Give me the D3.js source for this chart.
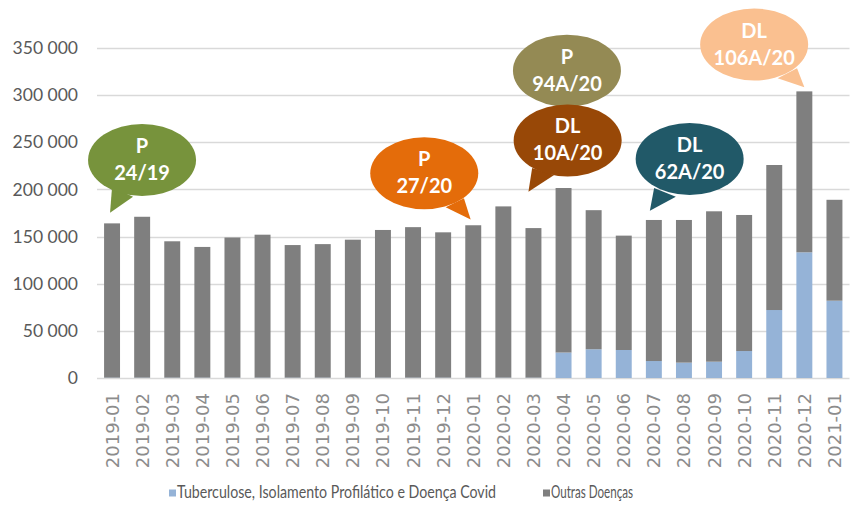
<!DOCTYPE html>
<html>
<head>
<meta charset="utf-8">
<script src="https://cdnjs.cloudflare.com/ajax/libs/d3/7.8.5/d3.min.js"></script>
<style>
  body { margin: 0; background: #fff; }
  svg { display: block; }
</style>
</head>
<body>
<script>
var months = ["2019-01","2019-02","2019-03","2019-04","2019-05","2019-06","2019-07","2019-08","2019-09","2019-10","2019-11","2019-12",
              "2020-01","2020-02","2020-03","2020-04","2020-05","2020-06","2020-07","2020-08","2020-09","2020-10","2020-11","2020-12","2021-01"];

// Tuberculose, Isolamento Profilático e Doença Covid
var covid = [400, 400, 400, 400, 400, 400, 400, 400, 400, 400, 400, 400,
             400, 400, 400, 27000, 30500, 29700, 18000, 16300, 17300, 28600, 72100, 133300, 82000];

// Outras Doenças
var outras = [163600, 170600, 144600, 138600, 148600, 151600, 140600, 141600, 146300, 156600, 159600, 154100,
              161600, 181600, 158600, 174500, 147500, 121300, 149600, 151300, 159500, 144300, 153800, 170700, 107000];

var seriesNames = ["Tuberculose, Isolamento Profilático e Doença Covid", "Outras Doenças"];
var seriesColors = ["#95B3D7", "#7F7F7F"];

var yTicks = [0, 50000, 100000, 150000, 200000, 250000, 300000, 350000];

// callouts: month + value where the tail points (the olive one has its tail hidden)
var notes = [
  {lines: ["P", "24/19"],    month: "2019-01", value: 175300, color: "#77933C", dx: -2,   cx: 32,    cy: -52.7, b1: [-30, 27],     b2: [-9, 36.7]},
  {lines: ["P", "27/20"],    month: "2020-01", value: 168000, color: "#E46C0A", dx: -2.6, cx: -46.4, cy: -46.3, b1: [21.4, 34],    b2: [39.7, 25]},
  {lines: ["P", "94A/20"],   month: "2020-03", value: 326000, color: "#948A54", dx: -5,   cx: 38.5,  cy: 0,     b1: null,          b2: null},
  {lines: ["DL", "10A/20"],  month: "2020-03", value: 197600, color: "#984807", dx: -5,   cx: 39.2,  cy: -51.2, b1: [-35.5, 27.5], b2: [-13.5, 34.5]},
  {lines: ["DL", "62A/20"],  month: "2020-07", value: 177400, color: "#215968", dx: -4,   cx: 39.8,  cy: -51.7, b1: [-35.5, 29],   b2: [-13.8, 37.7]},
  {lines: ["DL", "106A/20"], month: "2020-12", value: 308300, color: "#FAC090", dx: 0,    cx: -50.2, cy: -42.8, b1: [23.5, 33.8],  b2: [42.9, 23.8]}
];

var width = 857, height = 512;
var margin = {top: 48, right: 8, bottom: 134, left: 97};

var svg = d3.select("body").append("svg")
  .attr("width", width)
  .attr("height", height);

var x = d3.scaleBand()
  .domain(months)
  .range([margin.left, 849.5])
  .paddingInner(0.47)
  .paddingOuter(0.235);

var y = d3.scaleLinear()
  .domain([0, 350000])
  .range([378, margin.top]);

// gridlines
svg.append("g")
  .selectAll("line")
  .data(yTicks)
  .enter().append("line")
  .attr("x1", margin.left)
  .attr("x2", 849.5)
  .attr("y1", function(d) { return Math.round(y(d)) + 0.5; })
  .attr("y2", function(d) { return Math.round(y(d)) + 0.5; })
  .attr("stroke", "#D9D9D9")
  .attr("stroke-width", 1.3);

// y axis labels
var yAxis = d3.axisLeft(y)
  .tickValues(yTicks)
  .tickSize(0)
  .tickPadding(0)
  .tickFormat(function(d) { return d3.format(",")(d).replace(/,/g, " "); });

var ya = svg.append("g")
  .attr("transform", "translate(78,0)")
  .call(yAxis);
ya.select(".domain").remove();
ya.selectAll("text")
  .attr("fill", "#595959")
  .style("font-family", "Lato, 'Open Sans', sans-serif")
  .style("font-size", "17.5px");

// stacked bars
var rows = months.map(function(m, i) { return {month: m, covid: covid[i], outras: outras[i]}; });
var stack = d3.stack().keys(["covid", "outras"]);
var layers = stack(rows);

svg.append("g")
  .selectAll("g")
  .data(layers)
  .enter().append("g")
  .attr("fill", function(d, i) { return seriesColors[i]; })
  .selectAll("rect")
  .data(function(d) { return d; })
  .enter().append("rect")
  .attr("x", function(d) { return x(d.data.month); })
  .attr("width", x.bandwidth())
  .attr("y", function(d) { return y(d[1]); })
  .attr("height", function(d) { return y(d[0]) - y(d[1]); });

// x axis labels (rotated)
var xAxis = d3.axisBottom(x).tickSize(0).tickPadding(0);
var xa = svg.append("g")
  .attr("transform", "translate(0,378)")
  .call(xAxis);
xa.select(".domain").remove();
xa.selectAll("text")
  .attr("fill", "#8C8C8C")
  .style("font-family", "'DejaVu Sans', sans-serif")
  .style("font-size", "18px")
  .style("text-anchor", "end")
  .attr("y", 0)
  .attr("dy", "0.36em")
  .attr("transform", "translate(0,15) rotate(-90)");

// callouts
var ng = svg.append("g")
  .selectAll("g")
  .data(notes)
  .enter().append("g")
  .attr("transform", function(d) {
    var tx = x(d.month) + x.bandwidth() / 2 + d.dx;
    var ty = y(d.value);
    return "translate(" + (tx + d.cx) + "," + (ty + d.cy) + ")";
  });

ng.filter(function(d) { return d.b1; })
  .append("path")
  .attr("fill", function(d) { return d.color; })
  .attr("d", function(d) {
    return "M" + d.b1[0] + "," + d.b1[1] + "L" + (-d.cx) + "," + (-d.cy) + "L" + d.b2[0] + "," + d.b2[1] + "Z";
  });

ng.append("ellipse")
  .attr("rx", 54)
  .attr("ry", 36)
  .attr("fill", function(d) { return d.color; });

ng.selectAll("text")
  .data(function(d) { return d.lines; })
  .enter().append("text")
  .attr("text-anchor", "middle")
  .attr("y", function(d, i) { return i == 0 ? -7 : 20; })
  .attr("fill", "#fff")
  .style("font-family", "Lato, sans-serif")
  .style("font-weight", "bold")
  .style("font-size", "20px")
  .text(function(d) { return d; });

// legend
var legendX = [169, 543];
var legendW = [319, 82];
var lg = svg.append("g")
  .selectAll("g")
  .data(seriesNames)
  .enter().append("g")
  .attr("transform", function(d, i) { return "translate(" + legendX[i] + ",489.5)"; });

lg.append("rect")
  .attr("width", 7)
  .attr("height", 7)
  .attr("fill", function(d, i) { return seriesColors[i]; });

lg.append("text")
  .attr("x", 8)
  .attr("y", 8.5)
  .attr("fill", "#595959")
  .attr("textLength", function(d, i) { return legendW[i]; })
  .attr("lengthAdjust", "spacingAndGlyphs")
  .style("font-family", "Lato, sans-serif")
  .style("font-size", "17px")
  .text(function(d) { return d; });
</script>
</body>
</html>
